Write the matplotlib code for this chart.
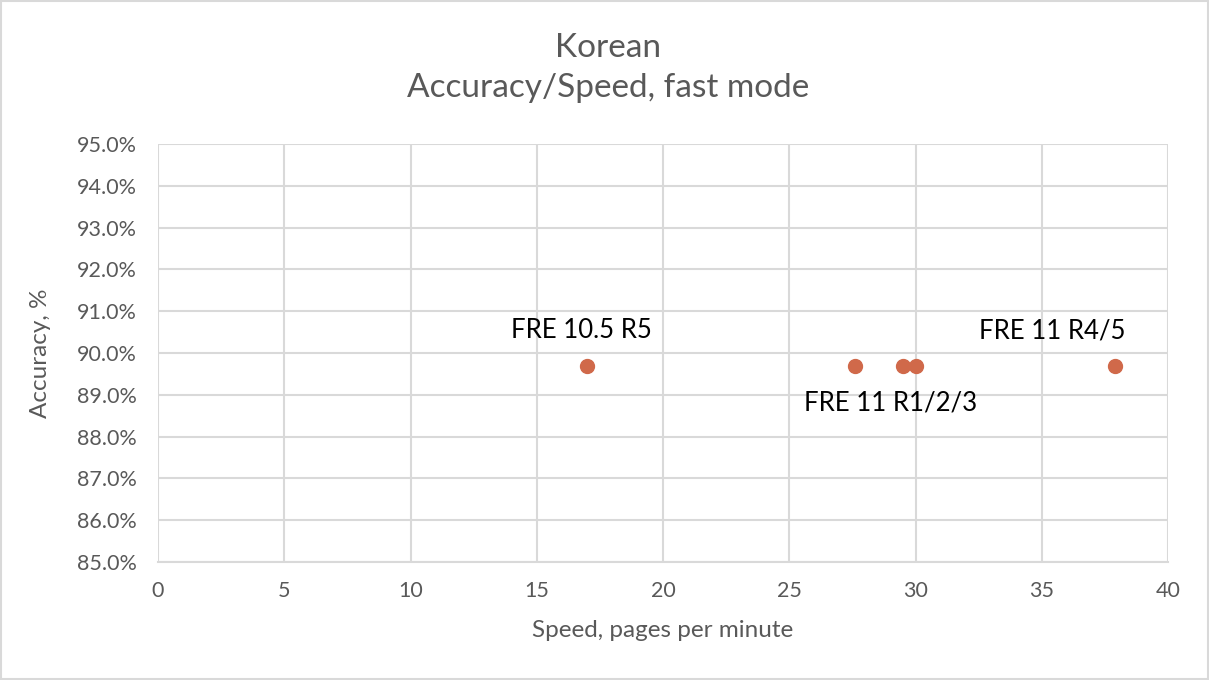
import matplotlib.pyplot as plt
from matplotlib.ticker import PercentFormatter
from matplotlib.patches import Rectangle

plt.rcParams["font.family"] = ["Lato", "DejaVu Sans"]

# データ
speed = [17.0, 27.6, 29.5, 30.0, 37.9]
accuracy = [89.7, 89.7, 89.7, 89.7, 89.7]
labels = ["FRE 10.5 R5", "FRE 11 R1/2/3", "", "", "FRE 11 R4/5"]
label_offsets = [(-4, 25), (26, -27), (0, 0), (0, 0), (-45, 25)]

gray = "#595959"
grid_gray = "#D9D9D9"

fig = plt.figure(figsize=(12.09, 6.8), dpi=100)
ax = fig.add_axes([0.1307, 0.1735, 0.8354, 0.6147])

ax.plot(speed, accuracy, linestyle="none", marker="o", markersize=10,
        color="#D0694A", zorder=3)

for x, y, lab, off in zip(speed, accuracy, labels, label_offsets):
    if lab:
        ax.annotate(lab, (x, y), xytext=off, textcoords="offset points",
                    ha="center", va="center", fontsize=18.5, color="black")

ax.set_xlim(0, 40)
ax.set_ylim(85, 95)
ax.set_xticks(range(0, 41, 5))
ax.set_yticks(range(85, 96))
ax.yaxis.set_major_formatter(PercentFormatter(decimals=1))
ax.grid(True, color=grid_gray, linewidth=1.5)
ax.set_axisbelow(True)
for s in ["top", "right", "left"]:
    ax.spines[s].set_visible(False)
ax.spines["bottom"].set_color(grid_gray)
ax.spines["bottom"].set_linewidth(1.5)
ax.tick_params(length=0, labelsize=15.5, colors=gray)
ax.tick_params(axis="y", pad=15)
ax.tick_params(axis="x", pad=14)

ax.set_xlabel("Speed, pages per minute", fontsize=17.5, color=gray, labelpad=13)
ax.set_ylabel("Accuracy, %", fontsize=17.5, color=gray, labelpad=19)

fig.text(0.503, 0.9, "Korean\nAccuracy/Speed, fast mode", ha="center",
         va="center", fontsize=24, color=gray, linespacing=1.4)

fig.patches.append(Rectangle((0.001, 0.001), 0.998, 0.998, transform=fig.transFigure,
                             fill=False, edgecolor=grid_gray, linewidth=1.5))

fig.savefig("out.png", dpi=100, facecolor="white")
